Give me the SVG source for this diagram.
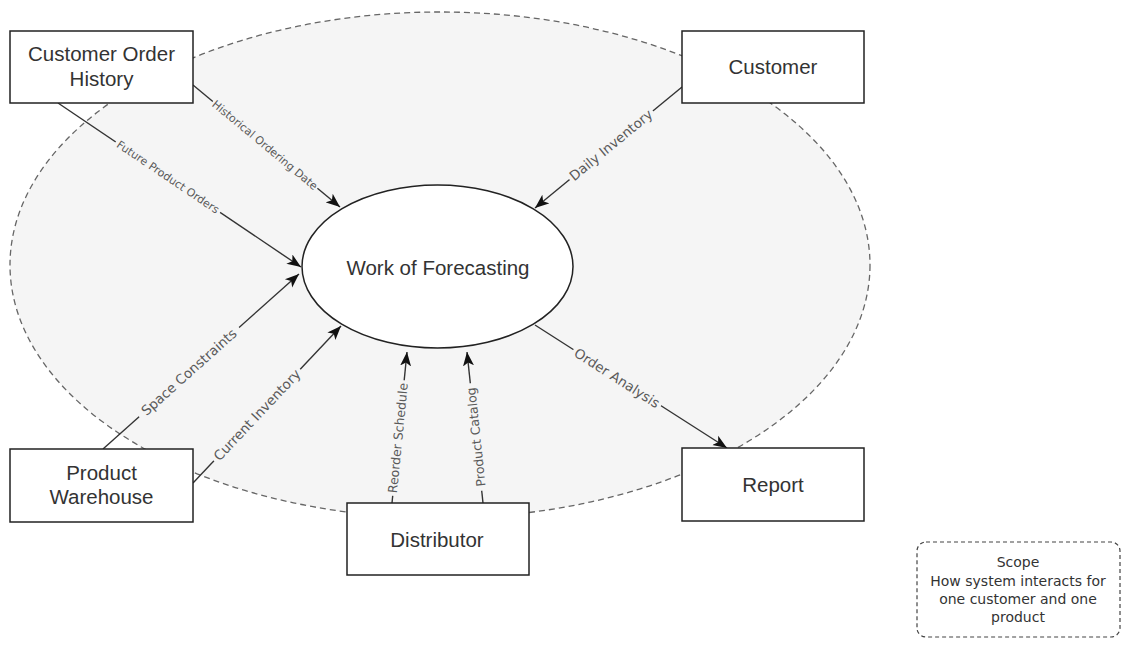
<svg xmlns="http://www.w3.org/2000/svg" width="1126" height="647" viewBox="0 0 1126 647">
<style>
.box{fill:#fff;stroke:#222;stroke-width:1.5}
.nt{font-family:"Liberation Sans",Arial,sans-serif;font-size:20.5px;fill:#333;text-anchor:middle}
.edge{fill:none;stroke:#333;stroke-width:1.4;marker-end:url(#arr)}
.lb{font-family:"DejaVu Sans",Verdana,sans-serif;fill:#5a5a5a;text-anchor:middle}
.ls{font-size:11px}
.lm{font-size:12.5px}
.ll{font-size:13.5px}
.lbg{fill:#f5f5f5}
.sc{font-family:"DejaVu Sans",Verdana,sans-serif;font-size:14px;fill:#333;text-anchor:middle}
</style>
<defs>
<marker id="arr" markerUnits="userSpaceOnUse" markerWidth="14" markerHeight="13" viewBox="0 0 14 13" refX="14" refY="6.5" orient="auto">
<path d="M0,1 L14,6.5 L0,12 L3.5,6.5 z" fill="#111"/>
</marker>
</defs>
<rect width="1126" height="647" fill="#fff"/>
<g id="scope-boundary">
<ellipse cx="440" cy="265" rx="430" ry="253" fill="#f5f5f5" stroke="#666" stroke-width="1.3" stroke-dasharray="6 4"/>
</g>
<g id="connectors">
<line class="edge" x1="193" y1="85" x2="340" y2="207"/>
<line class="edge" x1="58" y1="103" x2="301" y2="267"/>
<line class="edge" x1="682" y1="87" x2="535" y2="208"/>
<line class="edge" x1="103" y1="449" x2="299" y2="274"/>
<line class="edge" x1="193" y1="483" x2="341" y2="326"/>
<line class="edge" x1="392" y1="503" x2="407" y2="352"/>
<line class="edge" x1="483" y1="503" x2="467" y2="352"/>
<line class="edge" x1="535" y1="325" x2="727" y2="448"/>
<g transform="translate(265,145) rotate(39.7)"><rect class="lbg" x="-68" y="-7" width="136" height="14"/><text class="lb ls" y="0" dy="0.35em">Historical Ordering Date</text></g>
<g transform="translate(168,177) rotate(34)"><rect class="lbg" x="-63" y="-7" width="126" height="14"/><text class="lb ls" y="0" dy="0.35em">Future Product Orders</text></g>
<g transform="translate(611,145) rotate(-39.5)"><rect class="lbg" x="-54" y="-8" width="108" height="16"/><text class="lb ll" y="0" dy="0.35em">Daily Inventory</text></g>
<g transform="translate(189,372) rotate(-41.8)"><rect class="lbg" x="-67" y="-8" width="134" height="16"/><text class="lb ll" y="0" dy="0.35em">Space Constraints</text></g>
<g transform="translate(257,415) rotate(-46.7)"><rect class="lbg" x="-63" y="-8" width="126" height="16"/><text class="lb ll" y="0" dy="0.35em">Current Inventory</text></g>
<g transform="translate(398,438) rotate(-84.3)"><rect class="lbg" x="-58" y="-7.5" width="116" height="15"/><text class="lb lm" y="0" dy="0.35em">Reorder Schedule</text></g>
<g transform="translate(476,437) rotate(-96)"><rect class="lbg" x="-54" y="-7.5" width="108" height="15"/><text class="lb lm" y="0" dy="0.35em">Product Catalog</text></g>
<g transform="translate(617,378) rotate(32.6)"><rect class="lbg" x="-52" y="-8" width="104" height="16"/><text class="lb ll" y="0" dy="0.35em">Order Analysis</text></g>
</g>
<g id="work-of-forecasting">
<ellipse cx="437.5" cy="266.5" rx="135.5" ry="81.5" fill="#fff" stroke="#222" stroke-width="1.5"/>
<text class="nt" x="438" y="275">Work of Forecasting</text>
</g>
<g id="customer-order-history">
<rect class="box" x="10" y="31" width="183" height="72"/>
<text class="nt" x="101.5" y="61">Customer Order</text>
<text class="nt" x="101.5" y="86">History</text>
</g>
<g id="customer">
<rect class="box" x="682" y="31" width="182" height="72"/>
<text class="nt" x="773" y="74">Customer</text>
</g>
<g id="product-warehouse">
<rect class="box" x="10" y="449" width="183" height="73"/>
<text class="nt" x="101.5" y="480">Product</text>
<text class="nt" x="101.5" y="504">Warehouse</text>
</g>
<g id="distributor">
<rect class="box" x="347" y="503" width="182" height="72"/>
<text class="nt" x="437" y="547">Distributor</text>
</g>
<g id="report">
<rect class="box" x="682" y="448" width="182" height="73"/>
<text class="nt" x="773" y="492">Report</text>
</g>
<g id="scope-note">
<rect x="917" y="542" width="203" height="95" rx="9" fill="#fff" stroke="#444" stroke-width="1.2" stroke-dasharray="4 3"/>
<text class="sc" x="1018" y="567">Scope</text>
<text class="sc" x="1018" y="586">How system interacts for</text>
<text class="sc" x="1018" y="604">one customer and one</text>
<text class="sc" x="1018" y="622">product</text>
</g>
</svg>
